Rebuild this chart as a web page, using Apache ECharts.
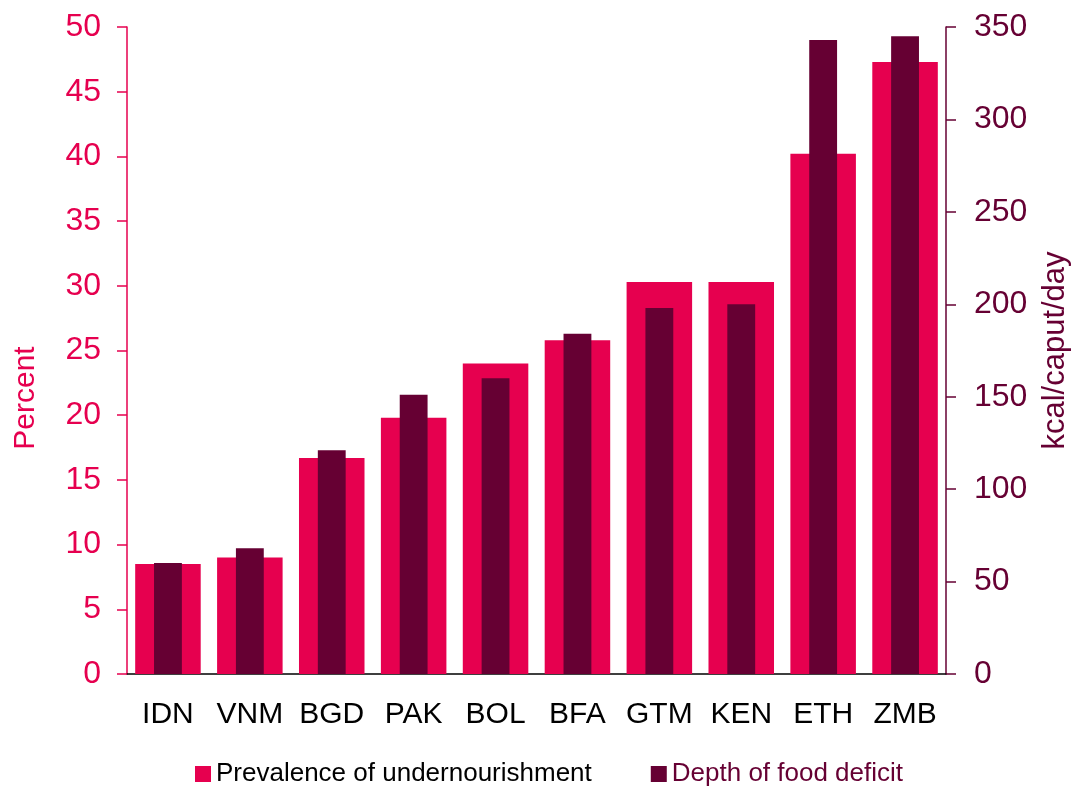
<!DOCTYPE html>
<html>
<head>
<meta charset="utf-8">
<script src="https://cdn.jsdelivr.net/npm/echarts@6/dist/echarts.min.js"></script>
<style>
  html, body { margin: 0; padding: 0; background: #fff; }
  #chart { width: 1074px; height: 787px; }
</style>
</head>
<body>
<div id="chart"></div>
<script>
// Country codes along the horizontal axis
const categories = ['IDN', 'VNM', 'BGD', 'PAK', 'BOL', 'BFA', 'GTM', 'KEN', 'ETH', 'ZMB'];
// Prevalence of undernourishment, percent (left axis)
const prevalence = [8.5, 9.0, 16.7, 19.8, 24.0, 25.8, 30.3, 30.3, 40.2, 47.3];
// Depth of food deficit, kcal/caput/day (right axis)
const deficit = [60, 68, 121, 151, 160, 184, 198, 200, 343, 345];

const PINK = '#E6004F';
const MAROON = '#660033';
const FONT = '"Liberation Sans", Arial, sans-serif';

const chart = echarts.init(document.getElementById('chart'), null, { renderer: 'canvas' });

chart.setOption({
  animation: false,
  backgroundColor: '#ffffff',
  textStyle: { fontFamily: FONT },
  grid: { left: 127, right: 128, top: 27, bottom: 113, containLabel: false, outerBoundsMode: 'none' },
  legend: {
    left: 190,
    top: 756,
    itemWidth: 16,
    itemHeight: 16,
    itemGap: 59,
    icon: 'rect',
    textStyle: { fontFamily: FONT, fontSize: 26, color: '#000' },
    data: [
      { name: 'Prevalence of undernourishment', textStyle: { color: '#000' } },
      { name: 'Depth of food deficit', textStyle: { color: MAROON } }
    ]
  },
  xAxis: [
    {
      type: 'category',
      data: categories,
      axisLine: { lineStyle: { color: '#000', width: 1.5 } },
      axisTick: { show: false },
      axisLabel: { color: '#000', fontSize: 30, margin: 26, interval: 0, fontFamily: FONT },
      splitLine: { show: false }
    },
    {
      // second band axis so the narrower bars are centred on each category
      type: 'category',
      data: categories,
      show: false
    }
  ],
  yAxis: [
    {
      type: 'value',
      min: 0, max: 50, interval: 5,
      position: 'left',
      name: 'Percent',
      nameLocation: 'middle',
      nameRotate: 90,
      nameGap: 86,
      nameTextStyle: { color: PINK, fontSize: 30, fontFamily: FONT, padding: [0, 0, 0, -95] },
      axisLine: { show: true, lineStyle: { color: PINK, width: 1.5 } },
      axisTick: { show: true, inside: false, length: 10, lineStyle: { color: PINK, width: 1.5 } },
      axisLabel: { color: PINK, fontSize: 32, margin: 26, fontFamily: FONT },
      splitLine: { show: false }
    },
    {
      type: 'value',
      min: 0, max: 350, interval: 50,
      position: 'right',
      name: 'kcal/caput/day',
      nameLocation: 'middle',
      nameRotate: 90,
      nameGap: 94,
      nameTextStyle: { color: MAROON, fontSize: 31, fontFamily: FONT },
      axisLine: { show: true, lineStyle: { color: MAROON, width: 1.5 } },
      axisTick: { show: true, inside: false, length: 10, lineStyle: { color: MAROON, width: 1.5 } },
      axisLabel: { color: MAROON, fontSize: 32, margin: 28, fontFamily: FONT },
      splitLine: { show: false }
    }
  ],
  series: [
    {
      name: 'Prevalence of undernourishment',
      type: 'bar',
      xAxisIndex: 0,
      yAxisIndex: 0,
      barWidth: '80%',
      itemStyle: { color: PINK },
      data: prevalence,
      z: 2
    },
    {
      name: 'Depth of food deficit',
      type: 'bar',
      xAxisIndex: 1,
      yAxisIndex: 1,
      barWidth: '34%',
      itemStyle: { color: MAROON },
      data: deficit,
      z: 3
    }
  ]
});
</script>
</body>
</html>
